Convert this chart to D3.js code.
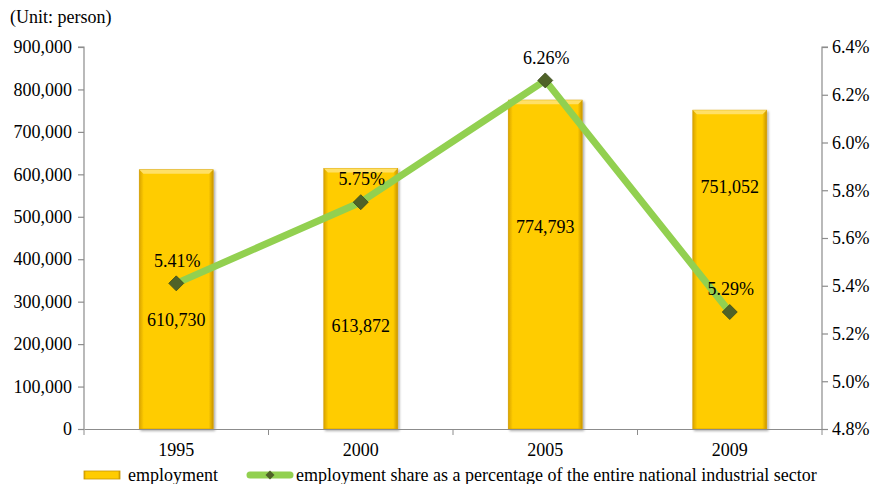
<!DOCTYPE html>
<html>
<head>
<meta charset="utf-8">
<script src="https://cdn.jsdelivr.net/npm/d3@7"></script>
<style>
  body { margin: 0; background: #fff; }
  svg text { font-family: "Liberation Serif", "DejaVu Serif", serif !important; fill: #000; }
</style>
</head>
<body>
<div id="my_chart"></div>
<script>
// data
const years = ["1995", "2000", "2005", "2009"];
const employment = [610730, 613872, 774793, 751052];
const sharePct = [5.41, 5.75, 6.26, 5.29];
const leftTicks = [0, 100000, 200000, 300000, 400000, 500000, 600000, 700000, 800000, 900000];
const rightTicks = [4.8, 5.0, 5.2, 5.4, 5.6, 5.8, 6.0, 6.2, 6.4];

const W = 878, H = 484;
const margin = {top: 47, right: 56, bottom: 55, left: 84};
const width = W - margin.left - margin.right;
const height = H - margin.top - margin.bottom;
const serif = "'Liberation Serif', serif";

const svgRoot = d3.select("#my_chart").append("svg")
  .attr("width", W).attr("height", H)
  .attr("font-family", serif);

// gradients for the bevelled gold bars
const defs = svgRoot.append("defs");
const gradH = defs.append("linearGradient").attr("id", "barGrad")
  .attr("x1", "0%").attr("x2", "100%").attr("y1", "0%").attr("y2", "0%");
gradH.append("stop").attr("offset", "0%").attr("stop-color", "#d9a400");
gradH.append("stop").attr("offset", "6%").attr("stop-color", "#ffcc00");
gradH.append("stop").attr("offset", "94%").attr("stop-color", "#ffcc00");
gradH.append("stop").attr("offset", "100%").attr("stop-color", "#c99600");

const shadow = defs.append("filter").attr("id", "shadow")
  .attr("x", "-20%").attr("y", "-20%").attr("width", "140%").attr("height", "140%");
shadow.append("feDropShadow").attr("dx", 1.5).attr("dy", 1.5)
  .attr("stdDeviation", 1.2).attr("flood-color", "#000").attr("flood-opacity", 0.35);

const svg = svgRoot.append("g")
  .attr("transform", `translate(${margin.left},${margin.top})`);

const x = d3.scaleBand().domain(years).range([0, width])
  .paddingInner(0.6).paddingOuter(0.3);
const xStep = d3.scaleBand().domain(years).range([0, width]);
const yL = d3.scaleLinear().domain([0, 900000]).range([height, 0]);
const yR = d3.scaleLinear().domain([4.8, 6.4]).range([height, 0]);

// bars
const bars = svg.selectAll(".bar").data(employment).join("g").attr("class", "bar");
bars.append("rect")
  .attr("x", (d, i) => x(years[i]))
  .attr("y", d => yL(d))
  .attr("width", x.bandwidth())
  .attr("height", d => height - yL(d))
  .attr("fill", "url(#barGrad)")
  .attr("stroke", "#d6a000")
  .attr("stroke-width", 0.8)
  .attr("filter", "url(#shadow)");
// top bevel
bars.append("path")
  .attr("d", (d, i) => {
    const x0 = x(years[i]), x1 = x0 + x.bandwidth(), y0 = yL(d);
    return `M${x0},${y0}L${x1},${y0}L${x1 - 4},${y0 + 4}L${x0 + 4},${y0 + 4}Z`;
  })
  .attr("fill", "#ffe066");

// axes
const axisColor = "#8c8c8c";
const leftAxis = svg.append("g")
  .call(d3.axisLeft(yL).tickValues(leftTicks).tickSize(6).tickPadding(6)
    .tickFormat(d3.format(",")));
const rightAxis = svg.append("g").attr("transform", `translate(${width},0)`)
  .call(d3.axisRight(yR).tickValues(rightTicks).tickSize(6).tickPadding(4)
    .tickFormat(d => d.toFixed(1) + "%"));
const bottomAxis = svg.append("g").attr("transform", `translate(0,${height})`)
  .call(d3.axisBottom(xStep).tickSize(0).tickPadding(14));
// category boundary ticks
svg.append("g").selectAll("line").data(d3.range(years.length + 1)).join("line")
  .attr("x1", i => i * xStep.step()).attr("x2", i => i * xStep.step())
  .attr("y1", height).attr("y2", height + 6)
  .attr("stroke", axisColor);

[leftAxis, rightAxis, bottomAxis].forEach(a => {
  a.attr("font-family", serif).attr("font-size", 18);
  a.selectAll("path,line").attr("stroke", axisColor).attr("stroke-width", 1.2);
  a.selectAll("text").attr("fill", "#000");
});
rightAxis.select(".domain").attr("d", `M6,0H0V${height}`);
leftAxis.select(".domain").attr("d", `M-6,0H0V${height}`);

// bar value labels (positioned by hand in the original to avoid the markers)
const barLabelShift = [20, 27, -38, -83];
svg.selectAll(".barLabel").data(employment).join("text")
  .attr("x", (d, i) => x(years[i]) + x.bandwidth() / 2)
  .attr("y", (d, i) => (yL(d) + height) / 2 + barLabelShift[i])
  .attr("dy", "0.35em")
  .attr("text-anchor", "middle")
  .attr("font-size", 18)
  .text(d => d3.format(",")(d));

// line
const cx = i => xStep(years[i]) + xStep.bandwidth() / 2;
const line = d3.line().x((d, i) => cx(i)).y(d => yR(d));
svg.append("path").datum(sharePct)
  .attr("d", line)
  .attr("fill", "none")
  .attr("stroke", "#92d050")
  .attr("stroke-width", 7)
  .attr("stroke-linejoin", "round");

const diamond = s => `M0,${-s}L${s},0L0,${s}L${-s},0Z`;
svg.selectAll(".marker").data(sharePct).join("path")
  .attr("transform", (d, i) => `translate(${cx(i)},${yR(d)})`)
  .attr("d", diamond(7.5))
  .attr("fill", "#4f6228")
  .attr("stroke", "#3a4a1c")
  .attr("stroke-width", 0.8);

svg.selectAll(".pctLabel").data(sharePct).join("text")
  .attr("x", (d, i) => cx(i) + 1)
  .attr("y", d => yR(d) - 23)
  .attr("dy", "0.35em")
  .attr("text-anchor", "middle")
  .attr("font-size", 18)
  .text(d => d.toFixed(2) + "%");

// unit label
svgRoot.append("text").attr("x", 10).attr("y", 23)
  .attr("font-size", 18).text("(Unit: person)");

// legend
const leg = svgRoot.append("g").attr("transform", "translate(0,475)");
leg.append("rect").attr("x", 84).attr("y", -4).attr("width", 36).attr("height", 8)
  .attr("fill", "url(#barGrad)").attr("stroke", "#c99600").attr("stroke-width", 0.8);
leg.append("text").attr("x", 128).attr("y", 0).attr("dy", "0.35em")
  .attr("font-size", 18).text("employment");
leg.append("line").attr("x1", 250).attr("x2", 290).attr("y1", 0).attr("y2", 0)
  .attr("stroke", "#92d050").attr("stroke-width", 7).attr("stroke-linecap", "round");
leg.append("path").attr("transform", "translate(270,0)").attr("d", diamond(4.5))
  .attr("fill", "#4f6228");
leg.append("text").attr("x", 296).attr("y", 0).attr("dy", "0.35em")
  .attr("font-size", 18)
  .text("employment share as a percentage of the entire national industrial sector");
</script>
</body>
</html>
